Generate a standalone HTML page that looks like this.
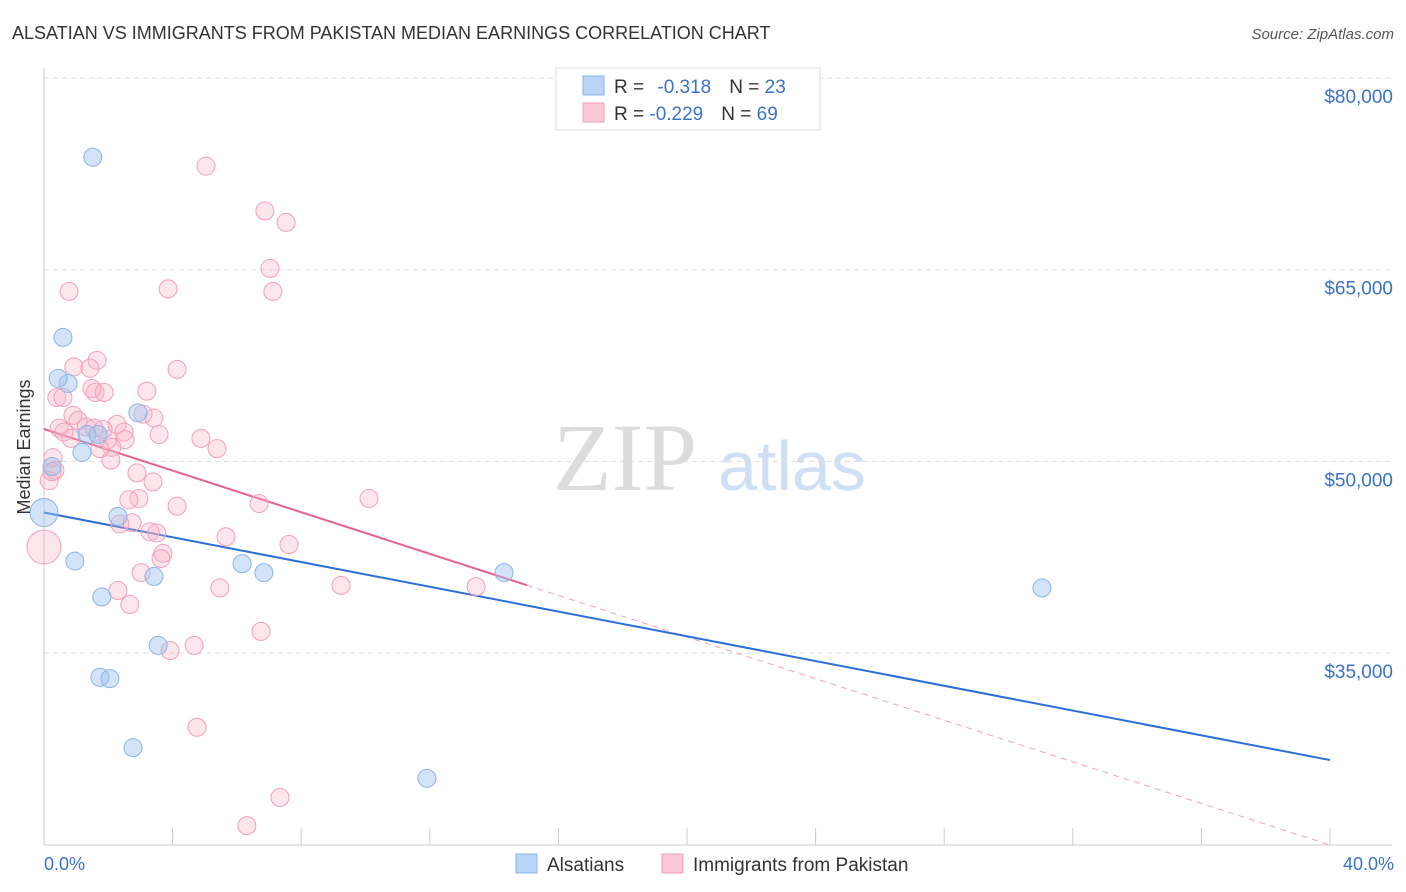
<!DOCTYPE html>
<html><head><meta charset="utf-8"><style>
body{margin:0;background:#fff;font-family:"Liberation Sans",sans-serif;}
svg{display:block}
</style></head><body>
<svg id="chart" width="1406" height="892">
<text x="12" y="39" font-size="18" fill="#333">ALSATIAN VS IMMIGRANTS FROM PAKISTAN MEDIAN EARNINGS CORRELATION CHART</text>
<text x="1394" y="39" font-size="15" fill="#555" font-style="italic" text-anchor="end">Source: ZipAtlas.com</text>
<g>
<text x="553" y="490" font-size="96" fill="#dcdcdc" font-family="Liberation Serif,serif">ZIP</text>
<text x="718" y="490" font-size="70" fill="#cfe0f5">atlas</text>
</g>
<g id="grid"></g>
<g id="axes"></g>
<g id="lines"></g>
<g id="points"></g>
<text x="38" y="455" font-size="18" fill="#333" text-anchor="middle" transform="rotate(-90 30 455)">Median Earnings</text>
<text x="44" y="870" font-size="18" fill="#3b73c8">0.0%</text>
<text x="1394" y="870" font-size="18" fill="#3b73c8" text-anchor="end">40.0%</text>
<g>
<rect x="556" y="68" width="264" height="62" fill="#fff" stroke="#ddd"/>
<rect x="583" y="76" width="21" height="19" fill="#b8d3f5" stroke="#8ab4e8"/>
<rect x="583" y="103" width="21" height="19" fill="#fcc8d7" stroke="#f0a0b8"/>
<text x="614" y="93" font-size="19" fill="#333">R = <tspan fill="#3b73c8" dx="8">-0.318</tspan><tspan dx="18">N = </tspan><tspan fill="#3b73c8">23</tspan></text>
<text x="614" y="120" font-size="19" fill="#333">R = <tspan fill="#3b73c8">-0.229</tspan><tspan dx="18">N = </tspan><tspan fill="#3b73c8">69</tspan></text>
</g>
<g>
<rect x="516" y="854" width="21" height="19" fill="#b8d3f5" stroke="#8ab4e8"/>
<text x="547" y="871" font-size="19" fill="#333">Alsatians</text>
<rect x="662" y="854" width="21" height="19" fill="#fcc8d7" stroke="#f0a0b8"/>
<text x="693" y="871" font-size="19" fill="#333">Immigrants from Pakistan</text>
</g>
</svg>
<script>
const yTicks=[80000,65000,50000,35000];
const yTickLabels=["$80,000","$65,000","$50,000","$35,000"];
const xTicks=[0,4,8,12,16,20,24,28,32,36,40];
const blueX=[1.52,0.59,0.75,0.44,2.92,1.34,1.68,1.18,0.25,0,2.30,0.96,3.42,6.16,6.84,1.80,3.55,1.74,2.05,2.77,11.91,14.31,31.04];
const blueY=[73800,59700,56100,56500,53800,52100,52100,50700,49600,46000,45700,42200,41000,42000,41300,39400,35600,33100,33000,27600,25200,41300,40100];
const blueR=[9,9,9,9,9,9,9,9,9,14,9,9,9,9,9,9,9,9,9,9,9,9,9];
const pinkX=[5.04,6.87,7.53,7.03,0.78,3.86,7.12,1.65,4.14,0.93,1.43,0.40,0.59,1.59,1.87,3.20,3.08,3.42,0.90,1.06,2.27,1.31,1.56,0.47,2.49,3.58,2.52,1.99,4.88,5.38,2.11,0.28,0.34,0.16,2.89,3.39,2.08,2.95,2.64,4.14,6.69,10.11,2.36,2.74,3.30,3.51,5.66,7.62,3.70,3.64,0,3.02,5.47,9.24,13.44,2.30,2.67,6.75,4.67,3.92,4.76,7.34,6.31,0.62,0.25,0.84,1.84,1.74,1.49];
const pinkY=[73100,69600,68700,65100,63300,63500,63300,57900,57200,57400,57300,55000,55000,55400,55400,55500,53700,53400,53600,53200,52900,52700,52600,52600,52300,52100,51700,51700,51800,51000,51100,50300,49300,48500,49100,48400,50100,47100,47000,46500,46700,47100,45100,45200,44500,44400,44100,43500,42800,42400,43300,41300,40100,40300,40200,39900,38800,36700,35600,35200,29200,23700,21500,52300,49200,51800,52500,51000,55700];
const blueLine=[46000,26630];   // value at x=0, x=40
const pinkLine=[52535,19982];   // value at x=0, x=40
const pinkSolidEnd=15.02;
const NS="http://www.w3.org/2000/svg";
const xS=v=>44+v/40*1286;
const yS=v=>78+(80000-v)*191.7/15000;
function mk(tag,attrs,parent){const e=document.createElementNS(NS,tag);for(const k in attrs)e.setAttribute(k,attrs[k]);parent.appendChild(e);return e;}
const grid=document.getElementById('grid'),axes=document.getElementById('axes'),lines=document.getElementById('lines'),pts=document.getElementById('points');
yTicks.forEach((t,i)=>{
 const l=mk('line',{x1:44,x2:1392,y1:yS(t),y2:yS(t),stroke:'#ddd','stroke-dasharray':'5,4'},grid);
 
 
 const tx=mk('text',{x:1393,y:yS(t)+25,'font-size':19,fill:'#3b73c8','text-anchor':'end'},grid);
 tx.textContent=yTickLabels[i];
 
 
});
const ya=mk('line',{x1:44,x2:44,y1:68,y2:845,stroke:'#ccc'},axes);


const xa=mk('line',{x1:44,x2:1392,y1:845,y2:845,stroke:'#ccc'},axes);


xTicks.forEach(t=>{
 const l=mk('line',{x1:xS(t),x2:xS(t),y1:828,y2:845,stroke:'#ccc'},axes);
 
 
});
const lv=(a,x)=>a[0]+(a[1]-a[0])*x/40;
const pd=mk('line',{x1:xS(pinkSolidEnd),y1:yS(lv(pinkLine,pinkSolidEnd)),x2:xS(40),y2:yS(lv(pinkLine,40)),stroke:'#f0a0b8','stroke-dasharray':'6,5','stroke-width':1},lines);


const bl=mk('line',{x1:xS(0),y1:yS(lv(blueLine,0)),x2:xS(40),y2:yS(lv(blueLine,40)),stroke:'#2a6fd6','stroke-width':2},lines);


const pl=mk('line',{x1:xS(0),y1:yS(lv(pinkLine,0)),x2:xS(pinkSolidEnd),y2:yS(lv(pinkLine,pinkSolidEnd)),stroke:'#e8608c','stroke-width':2},lines);


pinkX.forEach((x,i)=>{
 const c=mk('circle',{cx:xS(x),cy:yS(pinkY[i]),r:(i==50?17:9),fill:'rgba(248,180,200,0.35)',stroke:'#f0a0b8','stroke-width':1},pts);
 
 
});
blueX.forEach((x,i)=>{
 const c=mk('circle',{cx:xS(x),cy:yS(blueY[i]),r:blueR[i],fill:'rgba(160,196,240,0.45)',stroke:'#8ab4e8','stroke-width':1},pts);
 
 
});
</script>
</body></html>
